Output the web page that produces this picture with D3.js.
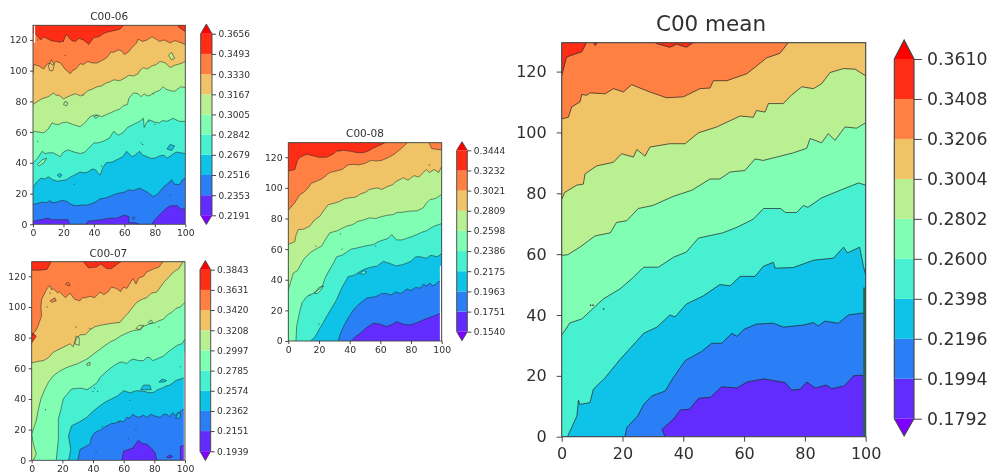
<!DOCTYPE html>
<html><head><meta charset="utf-8">
<script src="https://cdn.jsdelivr.net/npm/d3@7/dist/d3.min.js"></script>
<style>html,body{margin:0;padding:0;background:#fff}svg{display:block;filter:blur(0.4px)}</style>
</head><body><svg id="c" width="999" height="476"></svg>
<script>
const bandColors=["#632cfe","#2a7ff6","#0ec3e7","#47f0d0","#80ffb4","#b8f092","#f0c366","#ff8042","#ff2c16"];
const underColor="#8000ff", overColor="#ff0000";
const xTicks=[0,20,40,60,80,100];
const yTicks=[0,20,40,60,80,100,120];

const c06Title="C00-06";
const c06Levels=["0.2191","0.2353","0.2516","0.2679","0.2842","0.3005","0.3167","0.3330","0.3493","0.3656"];
const c06Contours=[
[[0,2],[5,3],[10,4],[12,3],[23,3],[24,0],[35,0],[36,2],[45,3],[50,4],[55,4],[60,6],[63,5],[63,1],[67,1],[70,0],[78,0],[80,3],[83,6],[87,10],[90,12],[95,12],[97,10],[100,10]],
[[0,13],[3,13.5],[6,14.5],[9,14],[11,15.5],[13,14],[16,14.5],[19,15.5],[22,15],[25,13],[28,12],[32,12.5],[36,12.6],[40,14],[44,16.5],[47,17],[50,18],[55,20],[58,20.5],[60,21],[63,22.4],[66,22],[70,23.5],[73,22],[75,21],[79,18],[81,19],[83,21],[86,24.6],[88,26],[91,29],[93,26],[96.5,26],[98,29],[100,30]],
[[0,24],[2,27],[5,30],[8,29.5],[10,31],[13,29],[16,28],[19,28.5],[22,29],[25,31],[27,32],[31,34],[34,33.5],[36,34],[39,36],[41,35.5],[43,33],[44,32],[46,37],[48,40],[52,40.5],[55,42],[59,44],[61.5,47.5],[63,46],[65,44],[67,45],[70,47.5],[72,45],[75,44],[77,43],[80,43],[83,44.5],[86,45],[88,43],[91,45],[94,47],[97,46.5],[100,46]],
[[0,40],[3,43],[6,47.5],[8,46],[10,46.5],[13.5,46.5],[16,45],[18,44],[20,47],[23,48.5],[27,47],[31,46],[34,47],[36,49],[38,51],[40,53],[43,53],[46,54],[50,56],[52,59],[53,60.5],[56,58],[59,59.5],[62,63],[66,65],[70,67],[72.5,69],[73,63],[74.5,66],[76,68],[80,66.5],[83,66],[85,67.5],[88,67],[92,69],[96,67],[100,67]],
[[0,60.5],[4,60],[7,59.5],[10,62],[12.5,66],[15,65],[17,65],[19,66],[22,66.5],[26,65],[31,63.5],[34,66],[37.5,70],[40,71],[43,71],[45,70],[48.5,71.5],[52,73],[54,74],[57,75],[59,77],[62,78],[63,82],[66,85.5],[69,85],[71,83],[73,85],[75,83.5],[77,84],[80,86],[83,87],[85.5,89.5],[87,88],[90,87],[93,86.5],[95,88],[97,89.5],[100,89]],
[[0,78],[3,80],[6,81.7],[10,83],[13.5,85.5],[15,84],[17,84],[20,81.7],[23,83],[25,84],[28,85],[31,83.5],[34,85],[36,87],[39,88],[42,89.5],[45,90],[48,92],[50,92.5],[53,94],[57,93.5],[60,95],[63,97],[66,96.5],[69,98],[70,100],[72.5,102],[75,101],[78,103],[81,104],[83.5,106],[87,105],[90,102],[93,103.5],[95,104],[98,105],[100,106]],
[[0,97.6],[0.5,104],[4,103],[7,101],[9,104],[11,105],[13,103.5],[15,106],[18,105],[21,101],[24.5,98],[26,100],[28,101],[31,104.5],[33,104],[36,106],[39,105],[42,105],[44,106],[47,107.5],[49,109],[51,112],[53,112],[56,113.5],[58,113],[60,110.5],[62.5,112],[65,115],[66,116],[68,118],[69,120.5],[72,119],[75,120],[78,122],[80,121],[83,119],[86,120],[90,118],[93,119.5],[95,119],[100,117]],
[[0,125],[2,124],[3,122],[5,120],[7,122],[9,121],[12,119.5],[15,119],[18,118.5],[20,119.5],[22,123.7],[24,121],[25.5,119.5],[28,119],[30,121],[33,120],[35,118.5],[36.5,117],[38,119],[40,121.6],[43,122],[44,122.5],[46,124],[48.5,125],[53,126],[57,127],[60,130]]
];
const c06Islands=[
{band:8,pts:[[94,131],[96,128],[100,125.5],[101,131]]},
{band:6,pts:[[10,103],[12,107],[14,104],[13,100],[11,100]]},
{band:5,pts:[[89,110],[91,112],[93,108],[91,107]]},
{band:4,pts:[[3,39],[6,42],[9,43],[7,40],[4,38]]},
{band:2,pts:[[16,32],[17.5,33],[19,32],[17.5,30.5]]},
{band:2,pts:[[88,49],[90,52],[93,51],[91,48]]},
{band:5,pts:[[20,78],[21,80],[23,79],[22,77]]},
{band:4,pts:[[40,70],[42,71],[43,70],[41,69]]},
{band:1,pts:[[65,4],[66,5],[67,4],[66,3]]}
];
const c06Specks=[[21,110],[3,54],[71,53],[72,52],[45,38],[27,26],[12,14],[3,120],[20,119],[33,84],[79,85],[76,67],[80,65],[90,19]];
const c06Streak={x:1,y0:118,y1:130};

const c07Title="C00-07";
const c07Levels=["0.1939","0.2151","0.2362","0.2574","0.2785","0.2997","0.3208","0.3420","0.3631","0.3843"];
const c07Contours=[
[[58.7,0],[60,6],[63,7],[66,8],[68,11],[69.5,13],[72,11],[75,10.5],[78,8],[80.5,5],[81.5,0],[97,0],[97,9],[100,10]],
[[30,0],[31.5,7],[35,9],[38,10.5],[39,15],[41,18],[45,20],[49,22.5],[52,24],[54,24],[57.6,25.7],[60,25],[62,28],[64,27.5],[66,30],[68,28.5],[70,28],[73,29.5],[75,28],[78,30],[80,29],[83.7,28],[86,30],[88,30],[90,28.5],[92,31],[94,29],[96,31],[98,33],[100,33]],
[[24,0],[25.5,7],[24,16],[26,22.5],[31,25],[36,28],[40,32],[44.5,35.5],[48,38],[52,40],[56,42],[60,45.4],[64,44],[68.5,45.4],[73,45],[77,44],[80,44.5],[82,46],[85,47],[88,48.6],[90,49],[94,52],[97,53],[100,54]],
[[16,0],[17.4,13.7],[17.4,27],[19,33],[20.6,40],[23,43],[26,46.5],[30,47],[33,47],[36,46],[40,48.6],[43,51],[44.5,54],[50,59],[54,62],[57.6,64],[60,64],[62,63],[64,65],[66,66],[70,65],[73,65],[75,67],[77,67],[79,65],[81.5,66],[86,68],[90,71.5],[95,75],[98,76],[100,79]],
[[1,0],[3,4],[1,11],[0,17],[3,26],[4.3,33],[6,40],[8.7,46.5],[11,51],[14,55],[18,58],[23,60.6],[30,63],[36,66],[40,69],[44,72],[48,75],[51,77],[55,79],[58,81],[62,83],[66.3,84.6],[70,85],[72,87],[77,89],[80,89.5],[83,91],[86,92],[88,94.4],[92,97],[94,99],[97,100],[100,103]],
[[0,63.5],[4,64.5],[7.6,65],[11,67],[14,70.4],[17,72],[20.6,73.7],[25,76],[27,74],[29,79],[31.5,81.8],[35,82],[38,85],[41,87],[44.5,88],[50,89],[54,89.5],[57.6,90],[60,93],[63,96],[66,100],[68.5,103],[72,105],[75,106],[78,109],[81.5,109.7],[84,113],[87,117],[90,120],[92.4,122.8],[96,125],[99,130]],
[[0,81],[3.3,85.7],[5,90],[6.5,94.4],[6,100],[6.5,105],[9,110],[10,112],[12,114],[13,111],[14,112],[17,109],[18,110],[20.6,107.5],[22,106],[25,109],[28,105],[31.5,104],[33,106],[35,106],[38,107],[41,106],[44.5,109.7],[47,108],[50,110],[52,113],[55.4,112],[58,110],[60,113],[62,112],[66,118.5],[68,115],[70,119],[73,120],[75,122.8],[80,125],[83,126],[86,130]],
[[0,124],[5,124],[10,124.5],[13,130]]
];
const c07Islands=[
{band:8,pts:[[32.6,131],[37,125.5],[42,126],[45,128],[49,125],[52,125],[60,131]]},
{band:8,pts:[[-1,75],[3,81],[-1,84]]},
{band:2,pts:[[71,46],[73,49],[77,49],[78,46]]},
{band:2,pts:[[83,51],[85,53],[88,52],[86,51]]},
{band:7,pts:[[12,104],[15,106],[16,104],[13,103]]},
{band:5,pts:[[68,86],[70,88],[73,88],[71,85]]},
{band:4,pts:[[76,90],[78,91.5],[79,90],[77,89]]},
{band:5,pts:[[28,76],[29,81],[31,80],[31,75]]},
{band:2,pts:[[94,27],[95,31],[97,31],[97,28]]},
{band:0,pts:[[88,2],[90,3.5],[92,2.5],[90,1.5]]},
{band:5,pts:[[36,63],[38,64],[38,62],[36,62]]},
{band:7,pts:[[22,115],[24,116],[25,114],[23,114]]}
];
const c07Specks=[[9,33],[29,87],[38,86],[83,87],[46,22],[57,25],[40,45],[43,45],[64,39],[68,20],[63,14],[42,5],[97,61],[12,109],[10,100],[41,47]];
const c07Streak={x:99.6,y0:0,y1:70};

const c08Title="C00-08";
const c08Levels=["0.1540","0.1751","0.1963","0.2175","0.2386","0.2598","0.2809","0.3021","0.3232","0.3444"];
const c08Contours=[
[[41,0],[44,3],[47,5],[50,8],[55.4,11.6],[60,11],[64,9.4],[68,11],[70.6,12.7],[75,11],[79,10.5],[84,12],[88,13.8],[94,16],[99,18],[100,19]],
[[32.6,0],[34,5],[36,9.4],[39,15],[42.4,20.3],[46,24],[51,28],[54,28.5],[57,29],[61,31],[64,31],[67,30],[70,32],[73,31],[75,32],[77,34],[80,33],[83,35],[86,34.5],[88,37],[90,36],[92.4,37.8],[94,36],[96,37],[98,39],[100,38.5]],
[[14.6,0],[17.4,2.8],[21,9],[25,16],[28,21],[31.5,27],[35,35],[39,42],[43,43],[47,45.5],[50,47],[53,48],[58,49],[62,52],[65,51],[68,50],[70,49],[75,50],[80,52],[83,55],[86,55],[90,54],[93,56],[97,55],[100,57]],
[[5,0],[5.4,9.4],[7.6,20],[9,25],[12,29],[16,31],[19,33],[22,35.6],[24,41],[26,45],[29,50],[31.5,55],[35,56],[38,58],[41,60],[44.6,60.7],[50,62],[55.4,63],[59,65],[62,66],[65,67],[67.4,69.5],[70.6,66],[74,66],[77,67],[80,68],[83.7,69.5],[87,71],[90,72],[95,75],[100,76.7]],
[[0,33.4],[3.3,44.4],[6,46],[9.8,53],[14,57.5],[18,60],[21.7,62],[24,66],[27,70.6],[32,72],[38,75],[42,76],[45,78],[49,79],[53,80.4],[57,80],[60,81],[64,82],[68.5,82.6],[71,84],[74,84],[79,84.8],[84,85],[88,87],[90,90],[92.4,92.4],[96,93],[100,95.7]],
[[0,63],[4.3,65],[5,69],[6.5,72.8],[10,73],[14,75],[17,79],[20.6,81.5],[23,85],[26,89],[30,90],[33,91],[37,93],[40,93.5],[44,94],[47,96],[50,97],[53,99],[58,100],[61,99],[65,101],[68,102],[70,104],[75,106.6],[78,105],[82,108],[85,107],[88,110],[90,112],[92,110],[95,112],[98,110],[100,114]],
[[0,85.4],[4,90],[7.6,95.7],[10,97],[13,100],[15,103],[18.5,104.4],[22,106],[27,110],[31,111],[35,112],[39,115],[42.4,115.4],[46,115],[50,116],[54,118],[57.6,117.5],[61,118],[65,119.7],[69,122],[72.8,125],[75,127],[78,130]],
[[0,111],[4.3,112],[6,118],[7.6,120],[12,122],[16,121],[20,120],[25,120],[29,122],[31.5,124],[36,124.5],[40,124],[45,123],[49,123],[52,124],[55.4,126],[60,128],[64,130]]
];
const c08Islands=[
{band:7,pts:[[91,131],[93.5,125.6],[101,124.7],[101,131]]},
{band:4,pts:[[17,31],[20,35],[23,36],[21,33],[19,31]]},
{band:3,pts:[[47,44],[49,46],[51,45],[49,43.5]]}
];
const c08Specks=[[57,62],[34,70],[14,30],[20,11],[35,60],[46,44],[92,115],[18,62],[33,124]];
const c08Streak={x:99.2,y0:0,y1:49};

const meanTitle="C00 mean";
const meanLevels=["0.1792","0.1994","0.2196","0.2398","0.2600","0.2802","0.3004","0.3206","0.3408","0.3610"];
const meanContours=[
[[34,0],[33,2.4],[36.7,5.7],[39,8.8],[42,9],[45,12.6],[49,13],[52.6,16.4],[57.6,16],[61,18],[66.4,19],[69.6,18.5],[73.5,17.8],[75.7,15.3],[78.4,15.6],[80.6,18],[83.4,16],[87,17],[88.8,15.8],[93,16.7],[96,20],[98,20.2],[100,20]],
[[20.8,0],[21.4,3],[25,6.8],[27,10.6],[29.6,13.4],[34,15],[36.7,19.4],[40.6,25],[46,28],[49.3,30.7],[52.6,30.7],[56,34],[57.6,33],[60,35.3],[64,37],[69.6,37.3],[73,36],[79.5,36.7],[82.8,37.5],[84.4,36.4],[86.6,38],[91,37.3],[94.3,40],[98.7,40.6],[100,40.6]],
[[1.9,0],[5,6.8],[5.5,12],[6,10.6],[9.3,11.2],[10.4,15.6],[14.3,19.4],[19.2,25.4],[27,34],[31.3,36],[35.6,40],[37.3,39.4],[41,43.6],[46.6,46.3],[52,50],[55.4,49.6],[58.7,52.7],[63.6,52.7],[66.3,56],[69.6,57.3],[70.2,55.4],[76.2,55.6],[82.8,58],[89.4,58.7],[92.7,62.3],[94,60.4],[98,62.3],[99.2,56.3],[100,53]],
[[0,33.4],[2.7,37.4],[6.6,38.7],[13.7,45.3],[19.2,48.6],[23.6,52.4],[26.9,55.7],[31.8,55.7],[36.8,59],[41,60.7],[45,65.3],[53,67],[58,69],[63,71.5],[66.4,75],[72,75],[73.6,73.7],[77.3,73.7],[79.5,76],[81,75.4],[85.5,78.5],[91.6,81],[97.6,83.4],[100,82.7]],
[[0,59.6],[2,59.8],[6,62.3],[11,66],[16,67],[18,70.4],[21.4,71],[25.2,75],[30,76],[36.7,79],[42.8,81],[48.8,84.7],[52,84.7],[55.4,87],[60.3,87.5],[63.6,91.3],[66.3,90.8],[76.2,93.3],[80.6,94.8],[81.7,98],[85.5,96.6],[87.7,99.6],[89.9,97.4],[93.2,101.8],[97,101.4],[100,103.2]],
[[0,78],[1,80.3],[5,82.7],[7.1,83],[7.7,86.4],[11.5,89],[17,90.2],[19.7,93],[23.6,91.9],[24.7,94.4],[27.4,92.2],[29,95.2],[35.6,96.3],[40.6,96.3],[45,99.9],[51,101.8],[58.7,105.4],[63,105],[64.1,107.2],[66.9,106.7],[68,109.5],[72.9,109.5],[75.7,112.4],[79,115],[82.8,114.4],[85.5,116],[88.3,119.7],[92.7,121],[96.5,120.8],[100,118.6]],
[[0,104.5],[2.2,105],[3.3,108.4],[6,110],[6.6,112.5],[8.2,112.2],[9.3,113],[14.3,112.7],[17,114.4],[20.3,113.3],[23,115.7],[29,113.3],[34.5,111.4],[40,111.7],[45.5,114.4],[48.8,114.6],[49.9,117],[54.3,117],[60.9,119.3],[67.4,124.5],[71.8,126],[74.9,130]],
[[0,118.6],[1.6,124.8],[6.6,126.5],[8.4,130]]
];
const meanIslands=[
{band:8,pts:[[9.9,131],[11,128.6],[12.7,131]]},
{band:8,pts:[[29.6,131],[31.2,129.2],[35.6,128],[37.8,129],[41,128],[45.5,131]]}
];
const meanSpecks=[[9.5,43.2],[10.3,43.2],[13.8,42]];
const meanStreak={x:99.5,y0:0,y1:49};

const smallStyle={fs:9.3,cfs:9,tfs:10.5,tl:3,ctl:4,pad:2.6,xpad:2.4,cpad:2.4,lw:0.75,speck:0.6,frame:0.9};
const panels=[
 {title:c06Title,levels:c06Levels,contours:c06Contours,islands:c06Islands,specks:c06Specks,streak:c06Streak,streakColor:"#fff",
  x0:33,x1:185.3,y0:224.3,y1:25.3,cx0:200.7,cx1:212,ct0:215.3,ct1:33.7,tip0:224.5,tip1:24,titleY:20,...smallStyle},
 {title:c07Title,levels:c07Levels,contours:c07Contours,islands:c07Islands,specks:c07Specks,streak:c07Streak,streakColor:"#ddd",
  x0:31.7,x1:185,y0:460.3,y1:261.7,cx0:200,cx1:210.7,ct0:451.3,ct1:269.7,tip0:460.5,tip1:260.5,titleY:256.7,...smallStyle},
 {title:c08Title,levels:c08Levels,contours:c08Contours,islands:c08Islands,specks:c08Specks,streak:c08Streak,streakColor:"#fff",
  x0:288.3,x1:441.7,y0:341,y1:142.7,cx0:456.7,cx1:467.3,ct0:331.7,ct1:150.3,tip0:340.7,tip1:141.7,titleY:137,...smallStyle},
 {title:meanTitle,levels:meanLevels,contours:meanContours,islands:meanIslands,specks:meanSpecks,streak:meanStreak,streakColor:"#1d6b4a",streakW:2,
  x0:561.7,x1:865.7,y0:436.7,y1:42.7,cx0:894.3,cx1:914,ct0:418.7,ct1:59,tip0:436,tip1:40,titleY:31,titleX:711,
  fs:16,cfs:17.3,tfs:21.5,tl:5,ctl:8,pad:10,xpad:6,cpad:5,lw:1,speck:0.9,frame:1.1}
];

const svg=d3.select("#c");
const ink="#303030";
panels.forEach((p,i)=>{
  const x=d3.scaleLinear([0,100],[p.x0,p.x1]);
  const y=d3.scaleLinear([0,129.5],[p.y0,p.y1]);
  const id="clip"+i;
  svg.append("clipPath").attr("id",id).append("rect")
    .attr("x",p.x0).attr("y",p.y1).attr("width",p.x1-p.x0).attr("height",p.y0-p.y1);
  const g=svg.append("g").attr("clip-path",`url(#${id})`);
  const line=d3.line().x(d=>x(d[0])).y(d=>y(d[1]));
  g.append("rect").attr("x",p.x0).attr("y",p.y1).attr("width",p.x1-p.x0).attr("height",p.y0-p.y1).attr("fill",bandColors[0]);
  p.contours.forEach((c,k)=>{
    const first=c[0], last=c[c.length-1];
    const poly=[...c];
    if(last[0]===100) poly.push([100,130]);
    poly.push([0,130]);
    if(first[1]===0) poly.push([0,0]);
    g.append("path").attr("d",line(poly)+"Z").attr("fill",bandColors[k+1]);
  });
  p.islands.forEach(s=>{
    g.append("path").attr("d",line(s.pts)+"Z").attr("fill",bandColors[s.band])
      .attr("stroke","#222").attr("stroke-opacity",0.7).attr("stroke-width",p.lw);
  });
  p.contours.forEach(c=>{
    g.append("path").attr("d",line(c)).attr("fill","none")
      .attr("stroke","#222").attr("stroke-opacity",0.7).attr("stroke-width",p.lw);
  });
  g.selectAll("circle").data(p.specks).join("circle")
    .attr("cx",d=>x(d[0])).attr("cy",d=>y(d[1])).attr("r",p.speck).attr("fill","#333").attr("fill-opacity",0.8);
  g.append("line").attr("x1",x(p.streak.x)).attr("x2",x(p.streak.x))
    .attr("y1",y(p.streak.y0)).attr("y2",y(p.streak.y1))
    .attr("stroke",p.streakColor).attr("stroke-width",p.streakW||1.2);

  svg.append("rect").attr("x",p.x0).attr("y",p.y1).attr("width",p.x1-p.x0).attr("height",p.y0-p.y1)
    .attr("fill","none").attr("stroke","#444").attr("stroke-width",p.frame);
  const ax=svg.append("g").attr("transform",`translate(0,${p.y0})`)
    .call(d3.axisBottom(x).tickValues(xTicks).tickSize(p.tl).tickPadding(p.xpad));
  const ay=svg.append("g").attr("transform",`translate(${p.x0},0)`)
    .call(d3.axisLeft(y).tickValues(yTicks).tickSize(p.tl).tickPadding(p.pad));
  [ax,ay].forEach(a=>{
    a.select(".domain").remove();
    a.selectAll("line").attr("stroke","#333").attr("stroke-width",0.9);
    a.selectAll("text").attr("fill",ink).attr("font-family","DejaVu Sans").attr("font-size",p.fs);
  });
  svg.append("text").attr("x",p.titleX||(p.x0+p.x1)/2).attr("y",p.titleY).attr("text-anchor","middle")
    .attr("font-family","DejaVu Sans").attr("font-size",p.tfs).attr("fill",ink).text(p.title);

  const vals=p.levels.map(Number);
  const cb=d3.scaleLinear([vals[0],vals[vals.length-1]],[p.ct0,p.ct1]);
  const w=p.cx1-p.cx0;
  bandColors.forEach((col,k)=>{
    svg.append("rect").attr("x",p.cx0).attr("width",w)
      .attr("y",cb(vals[k+1])).attr("height",cb(vals[k])-cb(vals[k+1])).attr("fill",col);
  });
  const mid=(p.cx0+p.cx1)/2;
  svg.append("path").attr("d",`M${p.cx0},${p.ct1}L${mid},${p.tip1}L${p.cx1},${p.ct1}Z`).attr("fill",overColor);
  svg.append("path").attr("d",`M${p.cx0},${p.ct0}L${mid},${p.tip0}L${p.cx1},${p.ct0}Z`).attr("fill",underColor);
  svg.append("path").attr("d",`M${p.cx0},${p.ct1}L${mid},${p.tip1}L${p.cx1},${p.ct1}L${p.cx1},${p.ct0}L${mid},${p.tip0}L${p.cx0},${p.ct0}Z`)
    .attr("fill","none").attr("stroke","#444").attr("stroke-width",p.frame);
  const ac=svg.append("g").attr("transform",`translate(${p.cx1},0)`)
    .call(d3.axisRight(cb).tickValues(vals).tickFormat((d,j)=>p.levels[j]).tickSize(p.ctl).tickPadding(p.cpad));
  ac.select(".domain").remove();
  ac.selectAll("line").attr("stroke","#333").attr("stroke-width",0.9);
  ac.selectAll("text").attr("fill",ink).attr("font-family","DejaVu Sans").attr("font-size",p.cfs);
});
</script></body></html>
